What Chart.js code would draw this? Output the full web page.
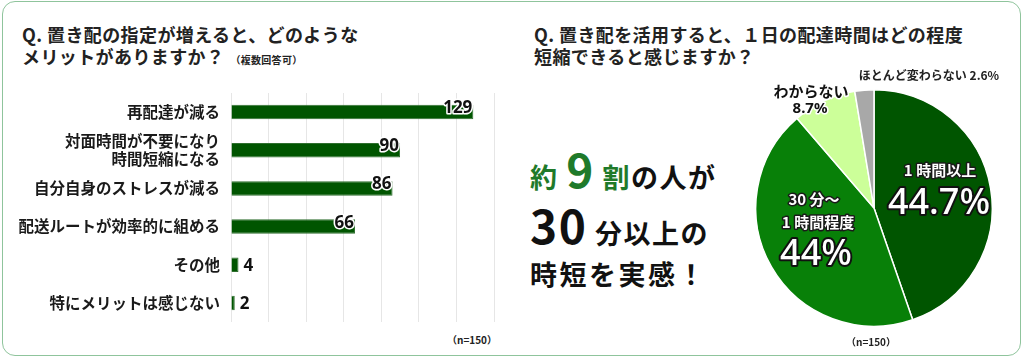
<!DOCTYPE html>
<html lang="ja">
<head>
<meta charset="utf-8">
<title>置き配アンケート</title>
<script src="https://cdn.jsdelivr.net/npm/chart.js@4.4.0/dist/chart.umd.min.js"></script>
<style>
  html, body { margin: 0; padding: 0; background: #fff; }
  body {
    width: 1024px; height: 358px; position: relative; overflow: hidden;
    font-family: "Noto Sans CJK JP", "Noto Sans", sans-serif; color: #222;
  }
  #frame {
    position: absolute; left: 2px; top: 1px; width: 1017px; height: 353px;
    border: 1.5px solid #8fc49c; border-radius: 13px;
  }
  .title {
    position: absolute; top: 23px; font-size: 18px; font-weight: 700;
    line-height: 22px; letter-spacing: 0.4px; white-space: nowrap;
  }
  .title small { font-size: 10px; letter-spacing: 0.3px; margin-left: 6px; }
  .note {
    position: absolute; width: 70px; text-align: center;
    font-size: 10px; font-weight: 700; line-height: 12px;
  }
  #barWrap { position: absolute; left: 0; top: 88px; width: 505px; height: 240px; }
  #pieWrap { position: absolute; left: 740px; top: 62px; width: 282px; height: 292px; }
  .catch {
    position: absolute; left: 530px; font-weight: 700; white-space: nowrap;
    color: #111; font-size: 27px; line-height: 1; letter-spacing: 1.5px;
  }
  .catch .big { font-size: 46px; line-height: 1; }
  .g { color: #1f7a2a; }
</style>
</head>
<body>
<div id="frame"></div>

<div class="title" style="left:22px;">Q. 置き配の指定が増えると、どのような<br>メリットがありますか？<small>（複数回答可）</small></div>
<div class="title" style="left:534px;">Q. 置き配を活用すると、１日の配達時間はどの程度<br>短縮できると感じますか？</div>

<div id="barWrap"><canvas id="barChart"></canvas></div>
<div class="note" style="left:437px; top:334px;">（n=150）</div>

<div class="catch" style="top:145px;"><span class="g">約 <span class="big">9</span> 割</span>の人が</div>
<div class="catch" style="top:201px;"><span class="big">30</span> 分以上の</div>
<div class="catch" style="top:260px; letter-spacing:2.5px;">時短を実感！</div>

<div id="pieWrap"><canvas id="pieChart"></canvas></div>
<div class="note" style="left:836px; top:336px;">（n=150）</div>

<script>
// left: multiple answers
const barCategories = [
  '再配達が減る',
  ['対面時間が不要になり', '時間短縮になる'],
  '自分自身のストレスが減る',
  '配送ルートが効率的に組める',
  'その他',
  '特にメリットは感じない'
];
const barValues = [129, 90, 86, 66, 4, 2];
const barAxisMax = 140;
const barAxisStep = 20;

// right: single answer (%)
const pieCategories = [['1 時間以上'], ['30 分〜', '1 時間程度'], ['わからない'], ['ほとんど変わらない']];
const pieValues = [44.7, 44, 8.7, 2.6];

Chart.defaults.font.family = '"Noto Sans CJK JP", "Noto Sans", sans-serif';
Chart.defaults.animation = false;

// numbers at the end of each bar
const barValueLabels = {
  id: 'barValueLabels',
  afterDatasetsDraw(chart) {
    const ctx = chart.ctx;
    const meta = chart.getDatasetMeta(0);
    ctx.save();
    ctx.font = '700 17px "Noto Sans"';
    ctx.lineJoin = 'round';
    meta.data.forEach((bar, i) => {
      const txt = String(barValues[i]);
      if (bar.x - bar.base > 30) {
        ctx.textAlign = 'right';
        ctx.textBaseline = 'alphabetic';
        ctx.lineWidth = 3;
        ctx.strokeStyle = '#fff';
        ctx.strokeText(txt, bar.x - 1, bar.y + 1);
        ctx.fillStyle = '#111';
        ctx.fillText(txt, bar.x - 1, bar.y + 1);
      } else {
        ctx.textAlign = 'left';
        ctx.textBaseline = 'middle';
        ctx.fillStyle = '#111';
        ctx.fillText(txt, bar.x + 5, bar.y + 1);
      }
    });
    ctx.restore();
  }
};

new Chart(document.getElementById('barChart'), {
  type: 'bar',
  data: {
    labels: barCategories,
    datasets: [{
      data: barValues,
      backgroundColor: '#005500',
      borderColor: '#2f6f2f',
      borderWidth: 1,
      borderSkipped: 'left',
      categoryPercentage: 1,
      barPercentage: 0.38
    }]
  },
  options: {
    indexAxis: 'y',
    responsive: true,
    maintainAspectRatio: false,
    layout: { padding: { top: 5, bottom: 6, right: 11, left: 0 } },
    plugins: { legend: { display: false }, tooltip: { enabled: false } },
    scales: {
      x: {
        min: 0, max: barAxisMax,
        ticks: { display: false, stepSize: barAxisStep },
        grid: { color: '#e6e6e6', drawTicks: false },
        border: { display: false },
        afterFit: (s) => { s.height = 0; s.paddingLeft = 0; s.paddingRight = 0; }
      },
      y: {
        ticks: {
          autoSkip: false,
          color: '#1a1a1a', padding: 11,
          font: { size: 15.5, weight: 'bold', lineHeight: 1.17 }
        },
        grid: { display: false, drawTicks: false },
        border: { display: false },
        afterFit: (s) => { s.width = 231; s.paddingTop = 0; s.paddingBottom = 0; }
      }
    }
  },
  plugins: [barValueLabels]
});

// where each slice's text sits, relative to the pie centre
const pieLabelLayout = [
  { kind: 'inside', name: [66, -38], value: [65, -4] },
  { kind: 'inside', name: [-60, -9], value: [-58, 47] },
  { kind: 'outside', name: [-63, -117], value: [-64, -99] },
  { kind: 'inline', name: [55, -133] }
];

function outlined(ctx, txt, x, y, fill, stroke, lw) {
  ctx.lineWidth = lw;
  ctx.strokeStyle = stroke;
  ctx.strokeText(txt, x, y);
  ctx.fillStyle = fill;
  ctx.fillText(txt, x, y);
}

const pieLabels = {
  id: 'pieLabels',
  afterDatasetsDraw(chart) {
    const ctx = chart.ctx;
    const meta = chart.getDatasetMeta(0);
    ctx.save();
    ctx.textAlign = 'center';
    ctx.textBaseline = 'middle';
    ctx.lineJoin = 'round';
    meta.data.forEach((arc, i) => {
      const cx = arc.x, cy = arc.y;
      const lay = pieLabelLayout[i];
      const lines = pieCategories[i];
      const val = pieValues[i] + '%';
      if (lay.kind === 'inside') {
        ctx.font = '700 15px "Noto Sans CJK JP"';
        lines.forEach((ln, j) => {
          outlined(ctx, ln, cx + lay.name[0] + (j ? 4 : 0), cy + lay.name[1] + j * 23, '#fff', '#1a1a1a', 3);
        });
        ctx.font = '500 36px "Noto Sans"';
        outlined(ctx, val, cx + lay.value[0], cy + lay.value[1], '#fff', '#111', 4);
      } else if (lay.kind === 'outside') {
        ctx.font = '700 15px "Noto Sans CJK JP"';
        outlined(ctx, lines[0], cx + lay.name[0], cy + lay.name[1], '#111', '#fff', 3);
        ctx.font = '700 15px "Noto Sans"';
        outlined(ctx, val, cx + lay.value[0], cy + lay.value[1], '#111', '#fff', 3);
      } else {
        ctx.font = '700 12px "Noto Sans CJK JP"';
        ctx.fillStyle = '#222';
        ctx.fillText(lines[0] + ' ' + val, cx + lay.name[0], cy + lay.name[1]);
      }
    });
    ctx.restore();
  }
};

new Chart(document.getElementById('pieChart'), {
  type: 'pie',
  data: {
    labels: pieCategories,
    datasets: [{
      data: pieValues,
      backgroundColor: ['#005500', '#088008', '#ccff99', '#a8a8a8'],
      borderColor: '#fff',
      borderWidth: 1.5
    }]
  },
  options: {
    responsive: true,
    maintainAspectRatio: false,
    layout: { padding: { left: 15, right: 29, top: 27, bottom: 27 } },
    plugins: { legend: { display: false }, tooltip: { enabled: false } }
  },
  plugins: [pieLabels]
});
</script>
</body>
</html>
